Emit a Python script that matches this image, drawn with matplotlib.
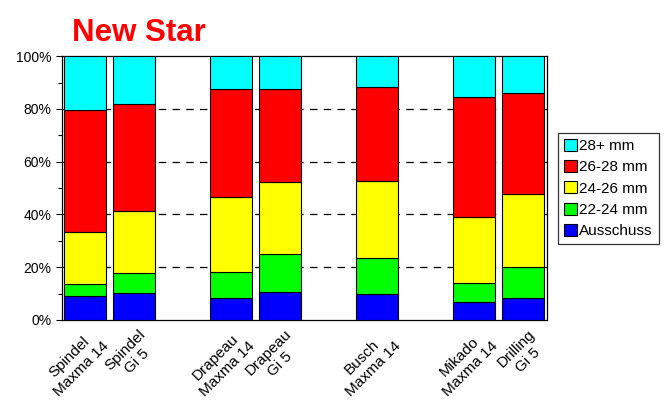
import matplotlib.pyplot as plt
import matplotlib.transforms as mtransforms
import numpy as np
from matplotlib.ticker import MultipleLocator, PercentFormatter

plt.rcParams.update({
    "font.family": ["Liberation Sans", "DejaVu Sans"],
    "font.size": 10,
})

# Categories and slot positions (empty slots separate the groups)
categories = ["Spindel\nMaxma 14", "Spindel\nGi 5",
              "Drapeau\nMaxma 14", "Drapeau\nGi 5",
              "Busch\nMaxma 14",
              "Mikado\nMaxma 14", "Drilling\nGi 5"]
slots = [0, 1, 3, 4, 6, 8, 9]

# Share of each size class per variant (%), bottom to top
ausschuss = [9.1, 10.4, 8.2, 10.5, 9.7, 6.7, 8.5]
mm_22_24 = [4.4, 7.3, 10.0, 14.4, 13.7, 7.4, 11.4]
mm_24_26 = [20.0, 23.6, 28.3, 27.4, 29.3, 25.0, 27.8]
mm_26_28 = [46.2, 40.4, 41.1, 35.1, 35.6, 45.5, 38.5]
mm_28_plus = [20.3, 18.3, 12.4, 12.6, 11.7, 15.4, 13.8]

series = [
    ("Ausschuss", ausschuss, "#0000ff"),
    ("22-24 mm", mm_22_24, "#00ff00"),
    ("24-26 mm", mm_24_26, "#ffff00"),
    ("26-28 mm", mm_26_28, "#ff0000"),
    ("28+ mm", mm_28_plus, "#00ffff"),
]

fig = plt.figure(figsize=(6.64, 4.01), dpi=100)
ax = fig.add_axes([0.0934, 0.202, 0.731, 0.658])

bottom = np.zeros(len(categories))
handles = []
for label, values, color in series:
    bars = ax.bar(slots, values, bottom=bottom, width=0.86, color=color,
                  edgecolor="black", linewidth=0.8, label=label, zorder=3)
    handles.append(bars)
    bottom += np.array(values)

# Dashed gridlines behind the bars
for y in [20, 40, 60, 80]:
    ax.axhline(y, color="black", lw=0.9, ls=(0, (6, 5)), zorder=1)

ax.set_xlim(-0.47, 9.5)
ax.set_ylim(0, 100)
ax.yaxis.set_major_locator(MultipleLocator(20))
ax.yaxis.set_minor_locator(MultipleLocator(10))
ax.yaxis.set_major_formatter(PercentFormatter(decimals=0))
ax.tick_params(axis="y", which="major", length=4, width=0.8, labelsize=10)
ax.tick_params(axis="y", which="minor", length=3, width=0.8)
ax.tick_params(axis="x", length=0, pad=5)

ax.set_xticks(slots)
ax.set_xticklabels(categories, rotation=45, ha="right", va="top",
                   rotation_mode="anchor", multialignment="center", fontsize=11)
shift = mtransforms.ScaledTranslation(5 / 100, 0, fig.dpi_scale_trans)
for lbl in ax.get_xticklabels():
    lbl.set_transform(lbl.get_transform() + shift)

for spine in ax.spines.values():
    spine.set_color("black")
    spine.set_linewidth(0.9)

fig.text(0.108, 0.918, "New Star", color="#ff0000", fontsize=22.5,
         fontweight="bold", ha="left", va="center")

leg = fig.legend(handles[::-1], [s[0] for s in series][::-1],
                 loc="center left", bbox_to_anchor=(0.840, 0.53),
                 fontsize=11, frameon=True, fancybox=False, edgecolor="black",
                 handlelength=0.85, handleheight=0.85, handletextpad=0.15,
                 labelspacing=0.45, borderpad=0.4, borderaxespad=0)
leg.get_frame().set_linewidth(0.9)

fig.savefig("out.png", dpi=100)
